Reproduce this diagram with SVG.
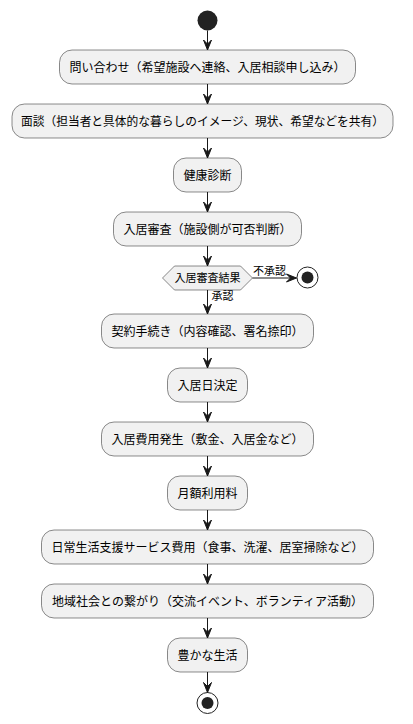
<svg xmlns="http://www.w3.org/2000/svg" width="413" height="724" viewBox="0 0 413 724">
<style>
.box{fill:#F1F1F1;stroke:#181818;stroke-width:0.5}
.t{font-family:"Noto Sans CJK JP","Noto Sans",sans-serif;font-size:12px;fill:#000;text-anchor:middle}
.s{font-family:"Noto Sans CJK JP","Noto Sans",sans-serif;font-size:11px;fill:#000}
.ln{stroke:#181818;stroke-width:1;fill:none}
.ah{fill:#181818;stroke:#181818;stroke-width:1}
</style>
<rect width="413" height="724" fill="#FFFFFF"/>
<g id="start"><circle cx="207.5" cy="20.5" r="10" fill="#222222"/></g>
<g id="n1"><rect class="box" x="59.5" y="50" width="296" height="34" rx="12.5"/><text class="t" x="207.5" y="71.5">問い合わせ（希望施設へ連絡、入居相談申し込み）</text></g>
<g id="n2"><rect class="box" x="12" y="104" width="381" height="34" rx="12.5"/><text class="t" x="202.5" y="125.5" textLength="363" lengthAdjust="spacingAndGlyphs">面談（担当者と具体的な暮らしのイメージ、現状、希望などを共有）</text></g>
<g id="n3"><rect class="box" x="173.5" y="158" width="68" height="34" rx="12.5"/><text class="t" x="207.5" y="179.5">健康診断</text></g>
<g id="n4"><rect class="box" x="113.5" y="212" width="188" height="34" rx="12.5"/><text class="t" x="207.5" y="233.5">入居審査（施設側が可否判断）</text></g>
<g id="d1"><polygon class="box" points="162.5,278 174.5,266 240.5,266 252.5,278 240.5,290 174.5,290"/><text class="s" x="207.5" y="282" text-anchor="middle">入居審査結果</text></g>
<g id="end1"><circle cx="307.5" cy="277.5" r="10.5" fill="none" stroke="#222222" stroke-width="1"/><circle cx="307.5" cy="277.5" r="6" fill="#222222"/></g>
<g id="n5"><rect class="box" x="101.5" y="314" width="212" height="34" rx="12.5"/><text class="t" x="207.5" y="335.5">契約手続き（内容確認、署名捺印）</text></g>
<g id="n6"><rect class="box" x="167.5" y="368" width="80" height="34" rx="12.5"/><text class="t" x="207.5" y="389.5">入居日決定</text></g>
<g id="n7"><rect class="box" x="101.5" y="422" width="212" height="34" rx="12.5"/><text class="t" x="207.5" y="443.5">入居費用発生（敷金、入居金など）</text></g>
<g id="n8"><rect class="box" x="167.5" y="476" width="80" height="34" rx="12.5"/><text class="t" x="207.5" y="497.5">月額利用料</text></g>
<g id="n9"><rect class="box" x="41.5" y="530" width="332" height="34" rx="12.5"/><text class="t" x="207.5" y="551.5">日常生活支援サービス費用（食事、洗濯、居室掃除など）</text></g>
<g id="n10"><rect class="box" x="41.5" y="584" width="332" height="34" rx="12.5"/><text class="t" x="207.5" y="605.5">地域社会との繋がり（交流イベント、ボランティア活動）</text></g>
<g id="n11"><rect class="box" x="167.5" y="638" width="80" height="34" rx="12.5"/><text class="t" x="207.5" y="659.5">豊かな生活</text></g>
<g id="end2"><circle cx="207.5" cy="703" r="10.5" fill="none" stroke="#222222" stroke-width="1"/><circle cx="207.5" cy="703" r="6" fill="#222222"/></g>
<g id="connectors">
<path class="ln" d="M207.5,30.5 V50"/><polygon class="ah" points="203.5,40 207.5,50 211.5,40 207.5,44"/>
<path class="ln" d="M207.5,84 V104"/><polygon class="ah" points="203.5,94 207.5,104 211.5,94 207.5,98"/>
<path class="ln" d="M207.5,138 V158"/><polygon class="ah" points="203.5,148 207.5,158 211.5,148 207.5,152"/>
<path class="ln" d="M207.5,192 V212"/><polygon class="ah" points="203.5,202 207.5,212 211.5,202 207.5,206"/>
<path class="ln" d="M207.5,246 V266"/><polygon class="ah" points="203.5,256 207.5,266 211.5,256 207.5,260"/>
<path class="ln" d="M252.5,278 H296.5"/><polygon class="ah" points="286.5,274 296.5,278 286.5,282 290.5,278"/>
<text class="s" x="253" y="275">不承認</text>
<path class="ln" d="M207.5,290 V314"/><polygon class="ah" points="203.5,304 207.5,314 211.5,304 207.5,308"/>
<text class="s" x="211.5" y="300">承認</text>
<path class="ln" d="M207.5,348 V368"/><polygon class="ah" points="203.5,358 207.5,368 211.5,358 207.5,362"/>
<path class="ln" d="M207.5,402 V422"/><polygon class="ah" points="203.5,412 207.5,422 211.5,412 207.5,416"/>
<path class="ln" d="M207.5,456 V476"/><polygon class="ah" points="203.5,466 207.5,476 211.5,466 207.5,470"/>
<path class="ln" d="M207.5,510 V530"/><polygon class="ah" points="203.5,520 207.5,530 211.5,520 207.5,524"/>
<path class="ln" d="M207.5,564 V584"/><polygon class="ah" points="203.5,574 207.5,584 211.5,574 207.5,578"/>
<path class="ln" d="M207.5,618 V638"/><polygon class="ah" points="203.5,628 207.5,638 211.5,628 207.5,632"/>
<path class="ln" d="M207.5,672 V692.5"/><polygon class="ah" points="203.5,682.5 207.5,692.5 211.5,682.5 207.5,686.5"/>
</g>
</svg>
